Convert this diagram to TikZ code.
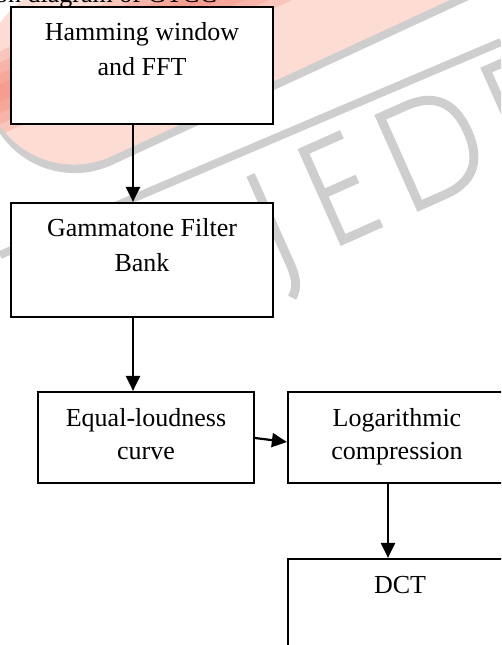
\documentclass[tikz,border=0pt]{standalone}
\usepackage{fontspec}
\setmainfont{Liberation Serif}
\usetikzlibrary{arrows.meta}

\definecolor{wmlight}{RGB}{253,220,212}
\definecolor{wmred}{RGB}{242,128,108}
\definecolor{wmgray}{RGB}{206,206,206}

\begin{document}
\begin{tikzpicture}[x=1pt,y=1pt,
  box/.style={draw, line width=2.2pt, fill=white, inner sep=0pt},
  lbl/.style={font=\fontsize{26}{30}\selectfont, inner sep=0pt, anchor=base},
  flow/.style={line width=2.2pt, -{Triangle[length=15pt,width=14pt]}},
  wmstroke/.style={draw=wmgray, line width=9pt, line join=miter}]
\useasboundingbox (0,0) rectangle (501,-645);
\clip (0,0) rectangle (501,-645);

% background logo: banner with its shadow
\begin{scope}[shift={(30,-194)}, rotate=24.8]
  \fill[wmgray, rounded corners=90pt] (-3,-8) rectangle (797,172);
  \begin{scope}
    \clip[rounded corners=90pt] (0,0) rectangle (800,180);
    \fill[wmlight] (0,0) rectangle (800,180);
    \foreach \w in {76,56,36,16}
      \draw[wmred, opacity=0.24, line width=\w pt] (-10,104) -- (810,104);
  \end{scope}
\end{scope}
\draw[wmgray, line width=8pt] (0,-255) -- (501,-42);

% background logo: letters
\begin{scope}[shift={(343,-240)}, rotate=24]
  \draw[wmstroke] (-58,97) -- (-58,0) .. controls (-58,-18) and (-62,-26) .. (-70,-32);
  \draw[wmstroke] (42,97) -- (0,97) -- (0,0) -- (42,0);
  \draw[wmstroke] (0,50) -- (38,50);
  \draw[wmstroke] (84,0) -- (84,97) -- (112,97) .. controls (150,97) and (158,72) .. (158,48.5)
        .. controls (158,25) and (150,0) .. (112,0) -- cycle;
  \draw[wmstroke] (200,0) -- (200,97) -- (228,97) .. controls (260,97) and (260,50) .. (228,50) -- (200,50);
  \draw[wmstroke] (228,50) -- (258,0);
\end{scope}

% caption above the chart
\node[lbl, anchor=base east] (cap) at (217,-2) {Feature extraction diagram of GTCC};

% processing blocks
\node[box, minimum width=262pt, minimum height=117pt] (b1) at (142,-65.5) {};
\node[box, minimum width=262pt, minimum height=114pt] (b2) at (142,-260) {};
\node[box, minimum width=216pt, minimum height=91pt]  (b3) at (146,-437.5) {};
\node[box, minimum width=218pt, minimum height=91pt]  (b4) at (397,-437.5) {};
\node[box, minimum width=224pt, minimum height=150pt] (b5) at (400,-634) {};

% block labels
\node[lbl] (t1a) at ([yshift=-35pt]b1.north) {Hamming window};
\node[lbl] (t1b) at ([yshift=-70pt]b1.north) {and FFT};
\node[lbl] (t2a) at ([yshift=-35pt]b2.north) {Gammatone Filter};
\node[lbl] (t2b) at ([yshift=-70pt]b2.north) {Bank};
\node[lbl] (t3a) at ([yshift=-36pt]b3.north) {Equal-loudness};
\node[lbl] (t3b) at ([yshift=-69pt]b3.north) {curve};
\node[lbl] (t4a) at ([yshift=-36pt]b4.north) {Logarithmic};
\node[lbl] (t4b) at ([yshift=-69pt]b4.north) {compression};
\node[lbl] (t5a) at ([yshift=-36pt]b5.north) {DCT};

% data flow
\draw[flow] ([xshift=-9pt]b1.south) -- ([xshift=-9pt]b2.north);
\draw[flow] ([xshift=-9pt]b2.south) -- ([xshift=-13pt]b3.north);
\draw[flow] ([yshift=-0.5pt]b3.east) -- ([yshift=-4.5pt]b4.west);
\draw[flow] ([xshift=-9pt]b4.south) -- ([xshift=-12pt]b5.north);
\end{tikzpicture}
\end{document}
